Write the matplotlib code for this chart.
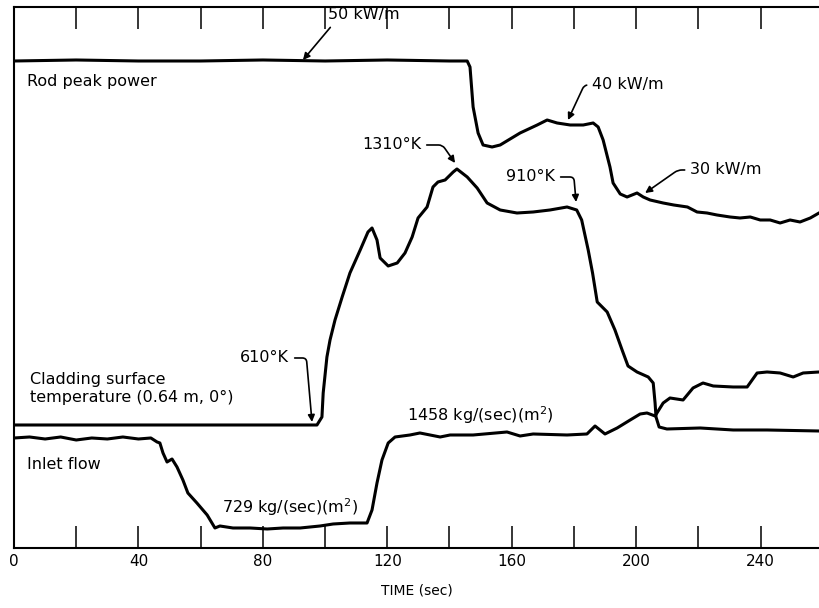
"""Rod peak power, cladding temperature and inlet flow vs time (scanned figure redraw)."""
import matplotlib
matplotlib.use("Agg")
import matplotlib.pyplot as plt
from matplotlib.ticker import MultipleLocator

plt.rcParams["font.family"] = ["DejaVu Sans"]

# levels are heights above the bottom axis, in chart units (no y scale in the original)
power_t = [0, 20, 40, 60, 80, 100, 120, 140, 145.7, 146.6, 147.6, 149.2, 150.8,
           153.7, 156.3, 162.7, 168.2, 171.4, 174.6, 178.8, 183.0, 186.2, 187.8,
           189.4, 191.6, 192.6, 194.9, 197.1, 200.3, 202.3, 204.5, 208.7, 212.1,
           216.5, 219.6, 222.8, 226.0, 230.2, 233.4, 236.7, 239.9, 243.1, 246.3,
           249.5, 252.7, 256.0, 258.8]
power_h = [487, 488, 487, 487, 488, 487, 488, 487, 487, 481, 441, 415, 403,
           401, 403, 415, 423, 428, 425, 423, 423, 425, 421,
           408, 381, 365, 354, 351, 355, 351, 348, 345, 343,
           341, 336, 335, 333, 331, 330, 331, 328, 328, 325,
           328, 326, 330, 335]

temp_t = [0, 50, 97.4, 99.0, 99.4, 100.6, 101.6, 103.2, 105.5, 108.0, 111.3,
          113.8, 115.1, 116.7, 117.7, 120.3, 123.2, 125.7, 128.0, 129.9, 132.8,
          134.7, 136.3, 138.6, 141.2, 142.4, 145.7, 148.9, 152.1, 156.3, 161.7,
          166.9, 172.3, 177.8, 180.9, 182.5, 184.6, 186.0, 187.5, 190.7, 193.2,
          195.5, 197.4, 200.3, 203.9, 205.5, 206.1, 206.4, 207.4, 209.9, 220.6,
          231.2, 242.1, 258.8]
temp_h = [123, 123, 123, 131, 155, 191, 208, 228, 251, 275, 298,
          316, 320, 308, 290, 282, 285, 295, 311, 330, 341,
          361, 366, 368, 376, 379, 371, 360, 345, 338, 335,
          336, 338, 341, 338, 328, 298, 275, 246, 236, 218,
          198, 182, 176, 171, 165, 145, 131, 121, 119, 120,
          118, 118, 117]

flow_t = [0, 5, 10, 15, 20, 25, 30, 35, 40, 44, 46.0, 46.9, 47.9, 49.2, 50.8,
          52.4, 54.3, 55.9, 58.8, 62.1, 64.6, 66.2, 70.4, 75.9, 81.4, 86.5,
          92.0, 98.4, 102.6, 108.0, 113.5, 115.1, 116.7, 118.3, 120.3, 122.5,
          127.3, 130.5, 137.0, 140.2, 147.6, 158.5, 162.7, 166.9, 177.8, 184.2,
          186.8, 190.0, 193.9, 198.1, 201.3, 203.5, 206.1, 208.7, 210.9, 215.1,
          218.3, 221.5, 224.8, 231.2, 235.7, 238.9, 242.1, 246.3, 250.5, 253.7,
          258.8]
flow_h = [110, 111, 109, 111, 108, 110, 109, 111, 109, 110, 106, 105, 95, 86, 89,
          81, 68, 55, 45, 33, 20, 22, 20, 20, 19, 20,
          20, 22, 24, 25, 25, 38, 65, 88, 105, 111,
          113, 115, 111, 113, 113, 116, 112, 114, 113, 114,
          122, 114, 120, 128, 134, 135, 132, 145, 150, 148,
          160, 165, 162, 161, 161, 175, 176, 175, 171, 175,
          176]

fig = plt.figure(figsize=(8.19, 6.08), dpi=100)
ax = fig.add_axes([0.0171, 0.0987, 0.9829, 0.8898])

for t, h in [(power_t, power_h), (temp_t, temp_h), (flow_t, flow_h)]:
    ax.plot(t, h, color="black", lw=2.2, solid_joinstyle="round")

ax.set_xlim(0, 258.8)
ax.set_ylim(0, 541)

for s in ["left", "top", "bottom"]:
    ax.spines[s].set_linewidth(1.5)
ax.spines["right"].set_visible(False)

ax.xaxis.set_major_locator(MultipleLocator(40))
ax.xaxis.set_minor_locator(MultipleLocator(20))
ax.tick_params(axis="x", which="both", direction="in", top=True, length=16,
               width=1.1, labelsize=11, pad=4)
ax.set_yticks([])
ax.set_xlabel("TIME (sec)", fontsize=10, labelpad=11)

fs = 11.5
ax.text(4.2, 466, "Rod peak power", fontsize=fs, va="center")
ax.text(5.1, 159.5, "Cladding surface\ntemperature (0.64 m, 0°)", fontsize=fs,
        va="center", linespacing=1.25)
ax.text(4.2, 83, "Inlet flow", fontsize=fs, va="center")
ax.text(66.9, 41, "729 kg/(sec)(m$^2$)", fontsize=fs, va="center")
ax.text(126.4, 133, "1458 kg/(sec)(m$^2$)", fontsize=fs, va="center")

notes = [  # label, tip (t, h), text (t, h), start side, arrival angle
    ("50 kW/m", (92.9, 488), (101.0, 533), 0, 50),
    ("40 kW/m", (178.1, 428), (185.9, 463), 0, 65),
    ("30 kW/m", (202.9, 355), (217.4, 378), 0, 35),
    ("1310°K", (141.8, 385), (111.9, 403), 1, 125),
    ("910°K", (180.7, 346), (158.2, 371), 1, 95),
    ("610°K", (95.8, 126), (72.7, 190), 1, 95),
]
for label, tip, pos, side, angb in notes:
    ax.annotate(label, xy=tip, xytext=pos, fontsize=fs, ha="left", va="center",
                arrowprops=dict(arrowstyle="-|>", color="black", lw=1.2,
                                mutation_scale=10, relpos=(side, 0.5),
                                shrinkA=2, shrinkB=0,
                                connectionstyle=f"angle,angleA=0,angleB={angb},rad=4"))

fig.savefig("out.png", dpi=100)
